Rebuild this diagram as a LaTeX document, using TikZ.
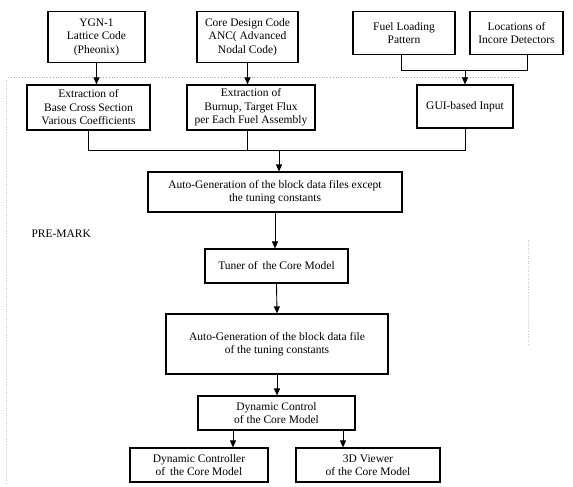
\documentclass[tikz,border=0pt]{standalone}
\usepackage{fontspec}
\setmainfont{Liberation Serif}
\usetikzlibrary{arrows.meta, positioning, calc}

\begin{document}
\begin{tikzpicture}[x=1pt, y=-1pt,
    box/.style={draw, line width=1.1pt, align=center, inner sep=1pt,
        font=\fontsize{11.5}{13.5}\selectfont},
    flow/.style={line width=0.9pt, -{Triangle[length=7pt, width=6pt]}},
    link/.style={line width=0.9pt}]
    \useasboundingbox (0,0) rectangle (573,487);

    % dotted frame of the pre-mark part
    \draw[gray!70, dotted, line width=0.8pt] (8,77) -- (520,77);
    \draw[gray!45, dotted, line width=0.6pt] (6,80) -- (6,484);
    \draw[gray!45, dotted, line width=0.6pt] (528,240) -- (528,345);

    % input codes and data
    \node[box, minimum width=97pt, minimum height=51pt] (ygn) at (96.5,37) {YGN-1\\Lattice Code\\(Pheonix)};
    \node[box, minimum width=101pt, minimum height=51pt] (core) at (247.5,37) {Core Design Code\\ANC( Advanced\\Nodal Code)};
    \node[box, minimum width=102pt, minimum height=43pt] (fuel) at (404,33) {Fuel Loading\\Pattern};
    \node[box, minimum width=93pt, minimum height=43pt] (loc) at (516.5,33) {Locations of\\Incore Detectors};

    % extraction and input
    \node[box, minimum width=123pt, minimum height=45pt] (base) at (88.5,107.5) {Extraction of\\Base Cross Section\\Various Coefficients};
    \node[box, minimum width=128pt, minimum height=45pt] (burn) at (251,107.5) {Extraction of\\Burnup, Target Flux\\per Each Fuel Assembly};
    \node[box, minimum width=96pt, minimum height=43pt] (gui) at (465,106.5) {GUI-based Input};

    % main chain
    \node[box, minimum width=254pt, minimum height=40pt] (gen1) at (275,192) {Auto-Generation of the block data files except\\the tuning constants};
    \node[anchor=west, font=\fontsize{11.5}{13}\selectfont] (pre) at (28,234) {PRE-MARK};
    \node[box, minimum width=143pt, minimum height=34pt] (tuner) at (276.5,266) {Tuner of\, the Core Model};
    \node[box, minimum width=222pt, minimum height=60pt] (gen2) at (277,344) {Auto-Generation of the block data file\\of the tuning constants};
    \node[box, minimum width=157pt, minimum height=34pt] (dyn) at (276.5,413) {Dynamic Control\\of the Core Model};
    \node[box, minimum width=138pt, minimum height=34pt] (ctrl) at (199,465) {Dynamic Controller\\of\, the Core Model};
    \node[box, minimum width=144pt, minimum height=34pt] (view) at (368,465) {3D Viewer\\of the Core Model};

    \coordinate (join) at (465,70);
    \coordinate (bus) at (279,150);

    % connectors
    \draw[flow] (ygn.south) -- (ygn.south |- base.north);
    \draw[flow] (core.south) -- (core.south |- burn.north);
    \draw[link] ([xshift=-3pt]fuel.south) |- (join);
    \draw[link] ([xshift=11pt]loc.south) |- (join);
    \draw[flow] (join) -- (gui.north);
    \draw[link] (base.south) |- (bus);
    \draw[link] (core.south |- burn.south) -- (core.south |- bus);
    \draw[link] (gui.south) |- (bus);
    \draw[flow] (bus) -- (bus |- gen1.north);
    \draw[flow] (gen1.south) -- (gen1.south |- tuner.north);
    \draw[flow] (tuner.south) -- (gen2.north);
    \draw[flow] (gen2.south) -- (gen2.south |- dyn.north);
    \draw[flow] ([xshift=-43.5pt]dyn.south) -- ([xshift=-43.5pt]dyn.south |- ctrl.north);
    \draw[flow] ([xshift=66.5pt]dyn.south) -- ([xshift=66.5pt]dyn.south |- view.north);
\end{tikzpicture}
\end{document}
